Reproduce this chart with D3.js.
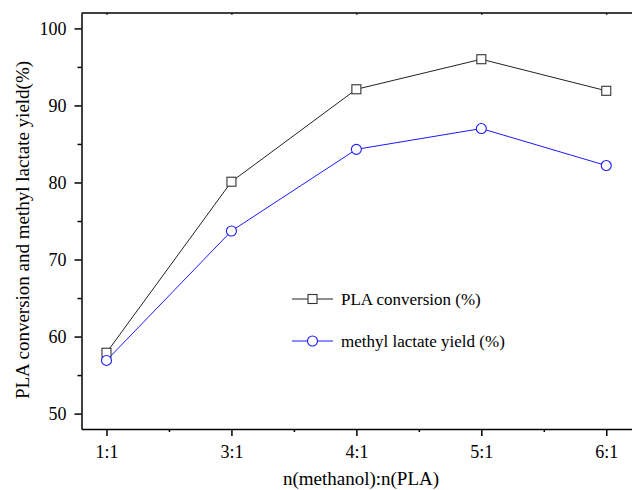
<!DOCTYPE html>
<html>
<head>
<meta charset="utf-8">
<script src="https://cdn.jsdelivr.net/npm/d3@7/dist/d3.min.js"></script>
<style>
  html, body { margin: 0; padding: 0; background: #fff; }
  svg { display: block; font-family: "Liberation Serif", "Times New Roman", serif; }
</style>
</head>
<body>
<svg id="chart" width="632" height="490"></svg>
<script>
// Molar ratio categories
const ratios = ["1:1", "3:1", "4:1", "5:1", "6:1"];
// PLA conversion (%)
const conversion = [57.9, 80.1, 92.1, 96.0, 91.9];
// Methyl lactate yield (%)
const yieldML = [56.9, 73.7, 84.3, 87.0, 82.2];
// Y axis ticks
const yMajor = [50, 60, 70, 80, 90, 100];
const yMinor = [55, 65, 75, 85, 95];
const seriesNames = ["PLA conversion (%)", "methyl lactate yield\u00a0(%)"];

const svg = d3.select("#chart");
const plotLeft = 81.5, plotRight = 640, plotTop = 13, plotBottom = 429;

const x = d3.scaleLinear().domain([-0.2, 4.27]).range([plotLeft, plotRight]);
const y = d3.scaleLinear().domain([48, 102]).range([plotBottom, plotTop]);

const g = svg.append("g");

// frame top edge
g.append("line").attr("x1", plotLeft).attr("x2", plotRight).attr("y1", plotTop).attr("y2", plotTop)
  .attr("stroke", "#000").attr("stroke-width", 1.5);

// top inward small ticks
g.append("g").attr("transform", `translate(0,${plotTop})`)
  .call(d3.axisBottom(x).tickValues(d3.range(ratios.length)).tickSize(2).tickFormat(""))
  .call(a => a.select(".domain").remove())
  .selectAll("line").attr("stroke-width", 1);

// x axis
const xAxis = g.append("g").attr("transform", `translate(0,${plotBottom})`)
  .call(d3.axisBottom(x).tickValues(d3.range(ratios.length)).tickSize(7).tickPadding(9)
    .tickFormat(i => ratios[i]).tickSizeOuter(0));
xAxis.select(".domain").attr("stroke-width", 1.5);
xAxis.selectAll(".tick line").attr("stroke-width", 1.5);
xAxis.attr("font-family", "Liberation Serif").attr("font-size", 18);
xAxis.selectAll("text").attr("fill", "#000");
g.append("g").attr("transform", `translate(0,${plotBottom})`)
  .call(d3.axisBottom(x).tickValues(d3.range(ratios.length - 1).map(i => i + 0.5)).tickSize(3).tickFormat(""))
  .call(a => a.select(".domain").remove())
  .selectAll("line").attr("stroke-width", 1.5);

// y axis
const yAxis = g.append("g").attr("transform", `translate(${plotLeft},0)`)
  .call(d3.axisLeft(y).tickValues(yMajor).tickSize(7).tickPadding(8).tickSizeOuter(0));
yAxis.select(".domain").attr("stroke-width", 1.5);
yAxis.selectAll(".tick line").attr("stroke-width", 1.5);
yAxis.attr("font-family", "Liberation Serif").attr("font-size", 18);
yAxis.selectAll("text").attr("fill", "#000");
g.append("g").attr("transform", `translate(${plotLeft},0)`)
  .call(d3.axisLeft(y).tickValues(yMinor).tickSize(4).tickFormat(""))
  .call(a => a.select(".domain").remove())
  .selectAll("line").attr("stroke-width", 1.5);

// axis titles
svg.append("text").attr("x", 361).attr("y", 485).attr("text-anchor", "middle")
  .attr("font-size", 19).text("n(methanol):n(PLA)");
svg.append("text").attr("transform", "translate(29,230) rotate(-90)").attr("text-anchor", "middle")
  .attr("font-size", 19).text("PLA conversion and methyl lactate yield(%)");

const line = d3.line().x((d, i) => x(i)).y(d => y(d));

// series lines
svg.append("path").datum(conversion).attr("d", line)
  .attr("fill", "none").attr("stroke", "#222").attr("stroke-width", 1);
svg.append("path").datum(yieldML).attr("d", line)
  .attr("fill", "none").attr("stroke", "#1a1aff").attr("stroke-width", 1);

// markers
const sq = 9;
svg.append("g").selectAll("rect").data(conversion).join("rect")
  .attr("x", (d, i) => x(i) - sq / 2).attr("y", d => y(d) - sq / 2)
  .attr("width", sq).attr("height", sq)
  .attr("fill", "#fff").attr("stroke", "#333").attr("stroke-width", 1.1);
svg.append("g").selectAll("circle").data(yieldML).join("circle")
  .attr("cx", (d, i) => x(i)).attr("cy", d => y(d)).attr("r", 5)
  .attr("fill", "#fff").attr("stroke", "#1a1aff").attr("stroke-width", 1.1);

// legend
const lg = svg.append("g");
const lx0 = 292, lx1 = 333, ly = [299, 341];
lg.append("line").attr("x1", lx0).attr("x2", lx1).attr("y1", ly[0]).attr("y2", ly[0])
  .attr("stroke", "#222").attr("stroke-width", 1);
lg.append("rect").attr("x", (lx0 + lx1) / 2 - sq / 2).attr("y", ly[0] - sq / 2)
  .attr("width", sq).attr("height", sq).attr("fill", "#fff").attr("stroke", "#333").attr("stroke-width", 1.1);
lg.append("line").attr("x1", lx0).attr("x2", lx1).attr("y1", ly[1]).attr("y2", ly[1])
  .attr("stroke", "#1a1aff").attr("stroke-width", 1);
lg.append("circle").attr("cx", (lx0 + lx1) / 2).attr("cy", ly[1]).attr("r", 5)
  .attr("fill", "#fff").attr("stroke", "#1a1aff").attr("stroke-width", 1.1);
lg.selectAll("text").data(seriesNames).join("text")
  .attr("x", 341).attr("y", (d, i) => ly[i] + 6)
  .attr("font-size", 17).text(d => d);
</script>
</body>
</html>
